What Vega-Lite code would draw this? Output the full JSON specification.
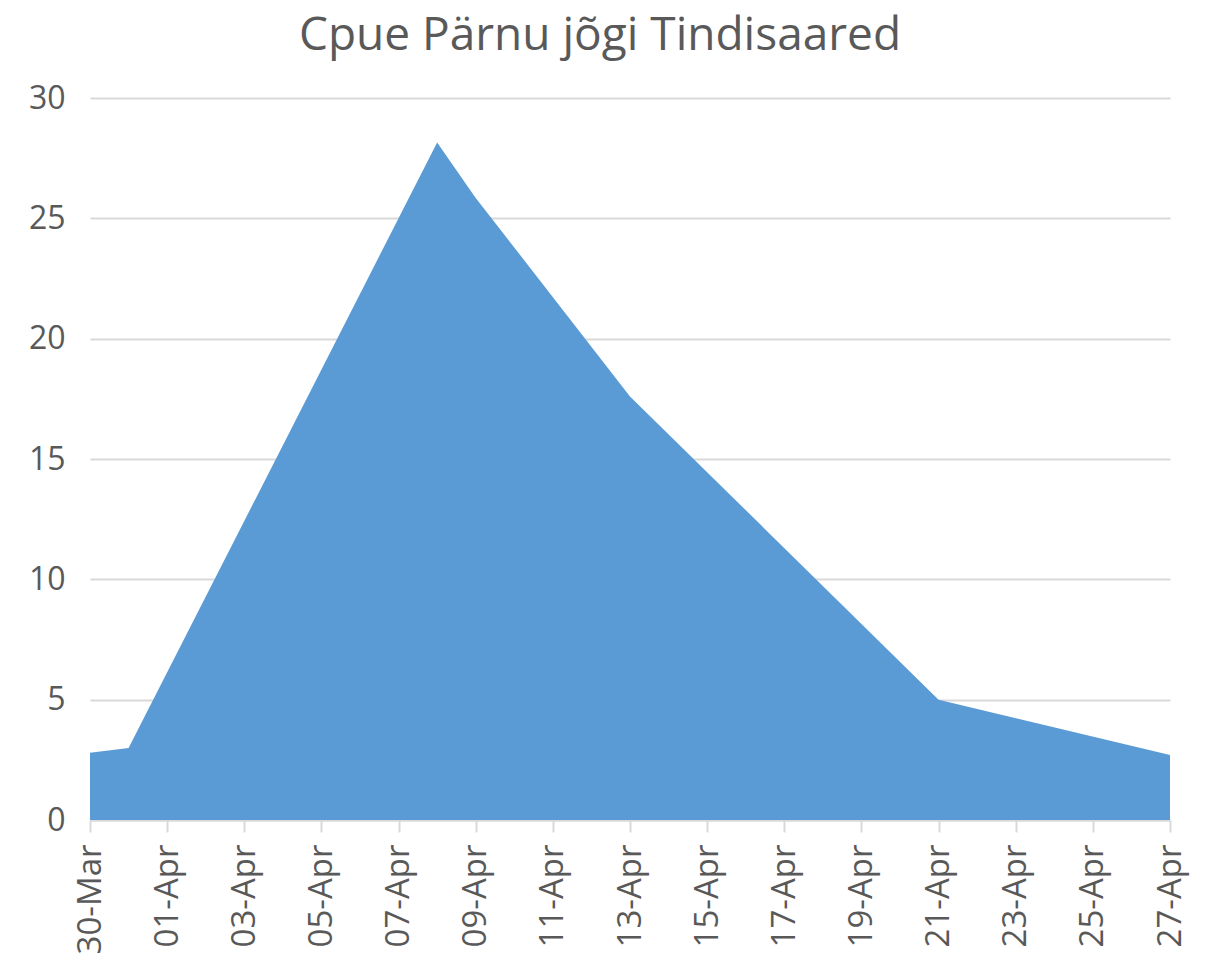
{
  "$schema": "https://vega.github.io/schema/vega-lite/v6.json",
  "width": 1080,
  "height": 722,
  "autosize": {"type": "none"},
  "padding": {"left": 90, "top": 98, "right": 38, "bottom": 134},
  "background": "white",
  "title": {
    "text": "Cpue Pärnu jõgi Tindisaared",
    "font": "Open Sans",
    "fontSize": 46,
    "fontWeight": "normal",
    "color": "#595959",
    "anchor": "middle",
    "dx": -30,
    "offset": 22
  },
  "config": {"view": {"stroke": null}},
  "data": {
    "values": [
      {"date": "2018-03-30", "cpue": 2.79},
      {"date": "2018-03-31", "cpue": 2.99},
      {"date": "2018-04-08", "cpue": 28.15},
      {"date": "2018-04-09", "cpue": 25.85},
      {"date": "2018-04-13", "cpue": 17.6},
      {"date": "2018-04-21", "cpue": 5.0},
      {"date": "2018-04-27", "cpue": 2.7}
    ]
  },
  "mark": {"type": "area", "color": "#5b9bd5", "interpolate": "linear"},
  "encoding": {
    "x": {
      "field": "date",
      "type": "temporal",
      "scale": {
        "type": "utc",
        "domain": [
          {"year": 2018, "month": 3, "date": 30, "utc": true},
          {"year": 2018, "month": 4, "date": 27, "utc": true}
        ],
        "nice": false
      },
      "axis": {
        "title": null,
        "labelExpr": "utcFormat(datum.value, '%d-%b')",
        "values": [
          {"year": 2018, "month": 3, "date": 30, "utc": true},
          {"year": 2018, "month": 4, "date": 1, "utc": true},
          {"year": 2018, "month": 4, "date": 3, "utc": true},
          {"year": 2018, "month": 4, "date": 5, "utc": true},
          {"year": 2018, "month": 4, "date": 7, "utc": true},
          {"year": 2018, "month": 4, "date": 9, "utc": true},
          {"year": 2018, "month": 4, "date": 11, "utc": true},
          {"year": 2018, "month": 4, "date": 13, "utc": true},
          {"year": 2018, "month": 4, "date": 15, "utc": true},
          {"year": 2018, "month": 4, "date": 17, "utc": true},
          {"year": 2018, "month": 4, "date": 19, "utc": true},
          {"year": 2018, "month": 4, "date": 21, "utc": true},
          {"year": 2018, "month": 4, "date": 23, "utc": true},
          {"year": 2018, "month": 4, "date": 25, "utc": true},
          {"year": 2018, "month": 4, "date": 27, "utc": true}
        ],
        "labelAngle": -90,
        "labelAlign": "right",
        "labelBaseline": "middle",
        "labelFont": "Open Sans",
        "labelFontSize": 33,
        "labelColor": "#595959",
        "labelPadding": 12,
        "labelOverlap": false,
        "labelFlush": false,
        "labelBound": false,
        "grid": false,
        "domainColor": "#d9d9d9",
        "domainWidth": 2,
        "tickColor": "#d9d9d9",
        "tickWidth": 2,
        "tickSize": 12
      }
    },
    "y": {
      "field": "cpue",
      "type": "quantitative",
      "scale": {"domain": [0, 30], "nice": false},
      "axis": {
        "title": null,
        "values": [0, 5, 10, 15, 20, 25, 30],
        "domain": false,
        "ticks": false,
        "grid": true,
        "gridColor": "#d9d9d9",
        "gridWidth": 2,
        "labelFont": "Open Sans",
        "labelFontSize": 32,
        "labelColor": "#595959",
        "labelPadding": 25
      }
    }
  }
}
